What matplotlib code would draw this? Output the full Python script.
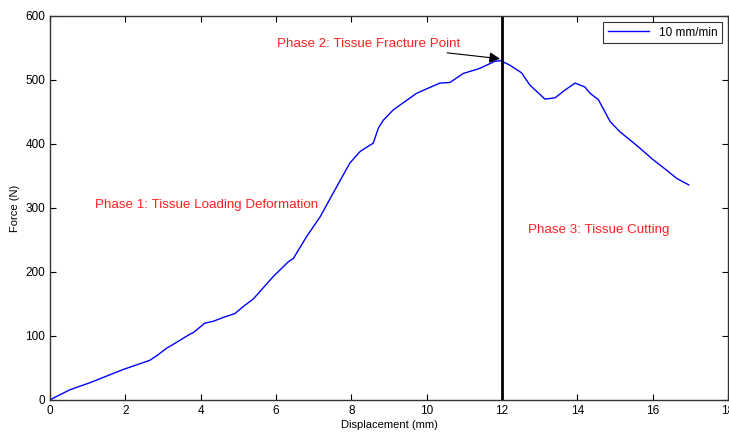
import matplotlib.pyplot as plt

# displacement (mm) / force (N)
disp = [0.0, 0.09, 0.53, 1.06, 1.96, 2.65, 2.83, 3.1, 3.36, 3.72, 3.8, 4.11, 4.34,
        4.6, 4.91, 5.13, 5.31, 5.4, 5.93, 6.33, 6.46, 6.81, 7.17, 7.61, 7.96, 8.23,
        8.49, 8.58, 8.72, 8.85, 9.11, 9.73, 10.35, 10.62, 10.97, 11.41, 11.81, 11.96,
        12.0, 12.21, 12.52, 12.74, 13.14, 13.41, 13.67, 13.94, 14.2, 14.34, 14.56,
        14.87, 15.13, 15.57, 16.02, 16.37, 16.64, 16.96]
force = [0, 3, 16, 27, 48, 62, 69, 81, 90, 103, 105, 120, 123,
         129, 135, 146, 154, 158, 193, 216, 221, 255, 286, 333, 370, 388,
         398, 401, 425, 437, 453, 479, 495, 496, 510, 518, 529, 530,
         529, 523, 511, 492, 470, 472, 484, 495, 489, 479, 469,
         435, 419, 398, 375, 359, 346, 336]

fracture_x = 12
xticks = [0, 2, 4, 6, 8, 10, 12, 14, 16, 18]
yticks = [0, 100, 200, 300, 400, 500, 600]

plt.rcParams['font.family'] = ['Liberation Sans', 'DejaVu Sans']

fig = plt.figure(figsize=(7.29, 4.41), dpi=100)
ax = fig.add_axes([0.0686, 0.093, 0.93, 0.871])

ax.plot(disp, force, color='#0000ff', linewidth=1.0, label='10 mm/min')
ax.plot([fracture_x, fracture_x], [0, 600], color='black', linewidth=2.0)

ax.set_xlim(0, 18)
ax.set_ylim(0, 600)
ax.set_xticks(xticks)
ax.set_yticks(yticks)
ax.tick_params(direction='in', length=4, top=True, right=True, labelsize=8.5)
for s in ax.spines.values():
    s.set_color('#333333')
    s.set_linewidth(1.0)

ax.set_xlabel('Displacement (mm)', fontsize=8, labelpad=2)
ax.set_ylabel('Force (N)', fontsize=8, labelpad=4)

red = '#ff2020'
ax.text(1.19, 305, 'Phase 1: Tissue Loading Deformation', color=red,
        fontsize=9.6, va='center', ha='left')
ax.text(12.69, 266, 'Phase 3: Tissue Cutting', color=red,
        fontsize=9.6, va='center', ha='left')
ax.annotate('Phase 2: Tissue Fracture Point', xy=(11.95, 533), xytext=(6.03, 556),
            color=red, fontsize=9.6, va='center', ha='left',
            arrowprops=dict(arrowstyle='-|>', color='black', lw=0.8,
                            mutation_scale=16, shrinkA=0, shrinkB=0))

leg = ax.legend(loc='upper right', fontsize=8.5, fancybox=False, framealpha=1,
                edgecolor='#333333', handlelength=3.5, borderaxespad=0.5)
leg.get_frame().set_linewidth(0.8)

fig.savefig('out.png', dpi=100)
